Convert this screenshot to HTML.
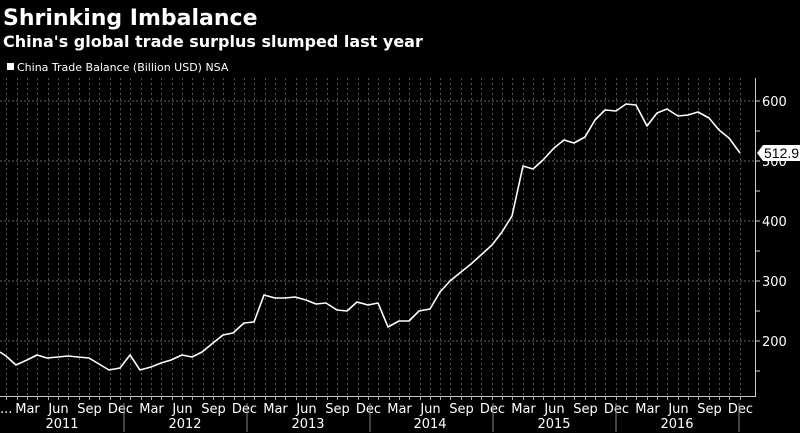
<!DOCTYPE html>
<html><head><style>
body{margin:0;background:#000;width:800px;height:433px;overflow:hidden}
svg{display:block}
text{font-family:"DejaVu Sans","Liberation Sans",sans-serif;fill:#fff}
</style></head><body>
<svg width="800" height="433" viewBox="0 0 800 433">
<rect width="800" height="433" fill="#000"/>
<text x="3" y="25" font-size="22" font-weight="bold">Shrinking Imbalance</text>
<text x="3" y="47" font-size="16" font-weight="bold">China's global trade surplus slumped last year</text>
<rect x="7" y="63" width="7" height="7" fill="#fff"/>
<text x="17" y="71" font-size="11">China Trade Balance (Billion USD) NSA</text>
<g id="vg" stroke="#555" stroke-width="1" stroke-dasharray="2,3"></g>
<g stroke="#666" stroke-width="1" stroke-dasharray="2,2">
<line x1="0" y1="101" x2="755" y2="101"/>
<line x1="0" y1="161" x2="755" y2="161"/>
<line x1="0" y1="221" x2="755" y2="221"/>
<line x1="0" y1="281" x2="755" y2="281"/>
<line x1="0" y1="341" x2="755" y2="341"/>
</g>
<g stroke="#ccc" stroke-width="1">
<line x1="755.5" y1="78" x2="755.5" y2="396"/>
<line x1="0" y1="396.5" x2="756" y2="396.5"/>
<line x1="755" y1="101" x2="760" y2="101"/><line x1="755" y1="131" x2="760" y2="131"/>
<line x1="755" y1="161" x2="760" y2="161"/><line x1="755" y1="191" x2="760" y2="191"/>
<line x1="755" y1="221" x2="760" y2="221"/><line x1="755" y1="251" x2="760" y2="251"/>
<line x1="755" y1="281" x2="760" y2="281"/><line x1="755" y1="311" x2="760" y2="311"/>
<line x1="755" y1="341" x2="760" y2="341"/><line x1="755" y1="371" x2="760" y2="371"/>
</g>
<g font-size="13">
<text x="762" y="106">600</text>
<text x="762" y="166">500</text>
<text x="762" y="226">400</text>
<text x="762" y="286">300</text>
<text x="762" y="346">200</text>
</g>
<polyline fill="none" stroke="#fff" stroke-width="1.6" stroke-linejoin="round" points="0,352 6,356 16,365 27,360 37,355 47,358 58,357 68,356 78,357 89,358 99,364 109,370 120,368 130,355 140,370 151,367 161,363 171,360 182,355 192,357 202,352 213,343 223,335 233,333 244,323 254,322 264,295 275,298 285,298 295,297 306,300 316,304 326,303 337,310 347,311 357,302 368,305 378,303 388,327 399,321 409,321 419,311 430,309 440,292 450,281 461,272 471,264 481,255 492,245 502,232 512,216 523,166 533,169 543,160 554,148 564,140 574,143 585,137 595,120 605,110 616,111 626,104 636,105 647,126 657,113 667,109 678,116 688,115 698,112 709,118 719,130 729,138 740,153"/>
<polygon points="757,153 763,145 800,145 800,161 763,161" fill="#fff"/>
<text x="764" y="158" font-size="14" style="fill:#000;font-family:'Liberation Sans',sans-serif">512.9</text>
<g font-size="13" text-anchor="middle" id="ml"></g>
<g font-size="13" text-anchor="middle">
<text x="62" y="428">2011</text><text x="185" y="428">2012</text><text x="308" y="428">2013</text>
<text x="430" y="428">2014</text><text x="554" y="428">2015</text><text x="677" y="428">2016</text>
</g>
<g stroke="#888">
<line x1="124" y1="403" x2="124" y2="432"/><line x1="247" y1="403" x2="247" y2="432"/>
<line x1="370" y1="403" x2="370" y2="432"/><line x1="493" y1="403" x2="493" y2="432"/>
<line x1="616" y1="403" x2="616" y2="432"/><line x1="739" y1="403" x2="739" y2="432"/>
</g>
<text x="0" y="413" font-size="13">...</text>
<script>
var ns="http://www.w3.org/2000/svg",vg=document.getElementById('vg'),ml=document.getElementById('ml');
var names=["Mar","Jun","Sep","Dec"];
for(var i=0;i<72;i++){var x=Math.round(6.3+i*10.33)+0.5;
var l=document.createElementNS(ns,'line');l.setAttribute('x1',x);l.setAttribute('x2',x);l.setAttribute('y1',78);l.setAttribute('y2',396);vg.appendChild(l);
var t=document.createElementNS(ns,'line');t.setAttribute('x1',x);t.setAttribute('x2',x);t.setAttribute('y1',396);t.setAttribute('y2',400);t.setAttribute('stroke','#aaa');vg.parentNode.appendChild(t);
if(i%3==2){var tx=document.createElementNS(ns,'text');tx.setAttribute('x',x);tx.setAttribute('y',413);tx.textContent=names[((i-2)/3)%4];ml.appendChild(tx);}}
</script>
</svg>
</body></html>
